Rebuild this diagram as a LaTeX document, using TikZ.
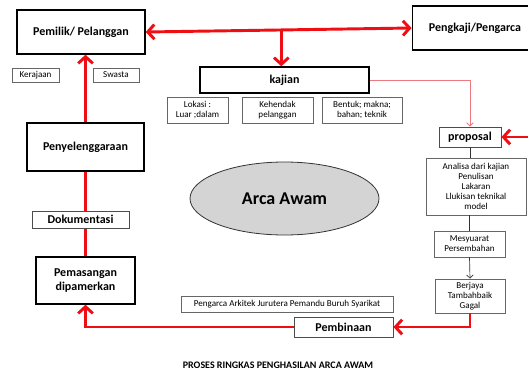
\documentclass[tikz,border=0pt]{standalone}
\usepackage{fontspec}
\setmainfont{Carlito}
\usetikzlibrary{arrows.meta}
\usetikzlibrary{shapes.geometric}
\definecolor{linered}{RGB}{238,14,20}
\definecolor{thinred}{RGB}{236,120,128}

\begin{document}
\begin{tikzpicture}[x=0.75pt,y=-0.75pt,
    bigbox/.style={draw=black,line width=1.1pt,fill=white,align=center,inner sep=1pt,
      font=\fontsize{9}{11}\selectfont\bfseries},
    midbox/.style={draw=black!70,line width=0.7pt,fill=white,align=center,inner sep=1pt,
      font=\fontsize{9}{11}\selectfont\bfseries},
    smallbox/.style={draw=black!60,line width=0.5pt,fill=white,align=center,inner sep=1pt,
      font=\fontsize{6.8}{7.6}\selectfont},
    redline/.style={draw=linered,line width=2.2pt},
    redarrow/.style={redline,-{Straight Barb[length=5pt,width=11pt]}},
    thinarrow/.style={draw=black!80,line width=0.5pt,-{Straight Barb[length=2.5pt,width=5pt]}}]
    \useasboundingbox (0,0) rectangle (528,371);
    \clip (0,0) rectangle (528,371);
    \node[bigbox,minimum width=96pt,minimum height=33pt] (pemilik) at (81,32) {Pemilik/ Pelanggan};
    \node[bigbox,minimum width=94pt,minimum height=33pt] (pengkaji) at (475,28) {Pengkaji/Pengarca};
    \node[smallbox,minimum width=35pt,minimum height=10.5pt] (kerajaan) at (35.5,75) {Kerajaan};
    \node[smallbox,minimum width=34.5pt,minimum height=10.5pt] (swasta) at (116,75) {Swasta};
    \node[bigbox,minimum width=126.75pt,minimum height=19.5pt] (kajian) at (284.5,80) {kajian};
    \node[smallbox,minimum width=45.75pt,minimum height=19.5pt] (lokasi) at (197.5,110) {Lokasi :\\Luar ;dalam};
    \node[smallbox,minimum width=53.25pt,minimum height=19.5pt] (kehendak) at (277.5,110) {Kehendak\\pelanggan};
    \node[smallbox,minimum width=60pt,minimum height=19.5pt] (bentuk) at (362,110) {Bentuk; makna;\\bahan; teknik};
    \node[midbox,minimum width=46.5pt,minimum height=15pt] (proposal) at (470,137) {proposal};
    \node[smallbox,minimum width=75pt,minimum height=42.75pt] (analisa) at (476,186.5)
      {Analisa dari kajian\\Penulisan\\Lakaran\\Llukisan teknikal\\model};
    \node[smallbox,minimum width=53.25pt,minimum height=19.5pt] (mesyuarat) at (469.5,244) {Mesyuarat\\Persembahan};
    \node[smallbox,minimum width=52.5pt,minimum height=25.5pt] (berjaya) at (470,296) {Berjaya\\Tambahbaik\\Gagal};
    \node[midbox,minimum width=74.25pt,minimum height=15pt] (pembinaan) at (343.5,327) {Pembinaan};
    \node[smallbox,minimum width=159pt,minimum height=12pt] (pengarca) at (287,304)
      {Pengarca Arkitek Jurutera Pemandu Buruh Syarikat};
    \node[bigbox,minimum width=74.25pt,minimum height=35.25pt] (pemasangan) at (85.5,280.5) {Pemasangan\\dipamerkan};
    \node[bigbox,minimum width=87.75pt,minimum height=36pt] (penyelenggaraan) at (85.5,147) {Penyelenggaraan};
    \node[ellipse,draw=black!80,line width=0.6pt,fill=black!17,minimum width=141.75pt,minimum height=54.75pt,
      font=\fontsize{13.5}{15}\selectfont\bfseries] (arca) at (284.5,198.5) {Arca Awam};
    \node[font=\fontsize{7.5}{9}\selectfont\bfseries] (tajuk) at (278,365) {PROSES RINGKAS PENGHASILAN ARCA AWAM};
    \coordinate (masuk) at (540,137);

    \draw[redline,{Straight Barb[length=5pt,width=11pt]}-{Straight Barb[length=5pt,width=11pt]}]
      (pemilik.east) -- (pengkaji.west) coordinate[pos=0.51] (cabang);
    \draw[redarrow] (cabang) -- (cabang |- kajian.north);
    \draw[thinred,line width=0.6pt,-{Straight Barb[length=2.5pt,width=5pt]}] (kajian.east) -| (proposal.north);
    \draw[redarrow] (masuk) -- (proposal.east);
    \draw[black!80,line width=0.5pt] (proposal.south) -- (proposal.south |- analisa.north);
    \draw[black!80,line width=0.5pt] (mesyuarat.north |- analisa.south) -- (mesyuarat.north);
    \draw[thinarrow] (mesyuarat.south) -- (berjaya.north);
    \draw[redarrow] (berjaya.south) |- (pembinaan.east);
    \draw[redarrow] (pembinaan.west) -| (pemasangan.south);
    \draw[redline] (pemasangan.north) -- (penyelenggaraan.south);
    \draw[redarrow] (penyelenggaraan.north) -- (penyelenggaraan.north |- pemilik.south);
    \node[midbox,minimum width=72.75pt,minimum height=12.75pt] (dokumentasi) at (80.5,219.5) {Dokumentasi};
  \end{tikzpicture}
\end{document}
